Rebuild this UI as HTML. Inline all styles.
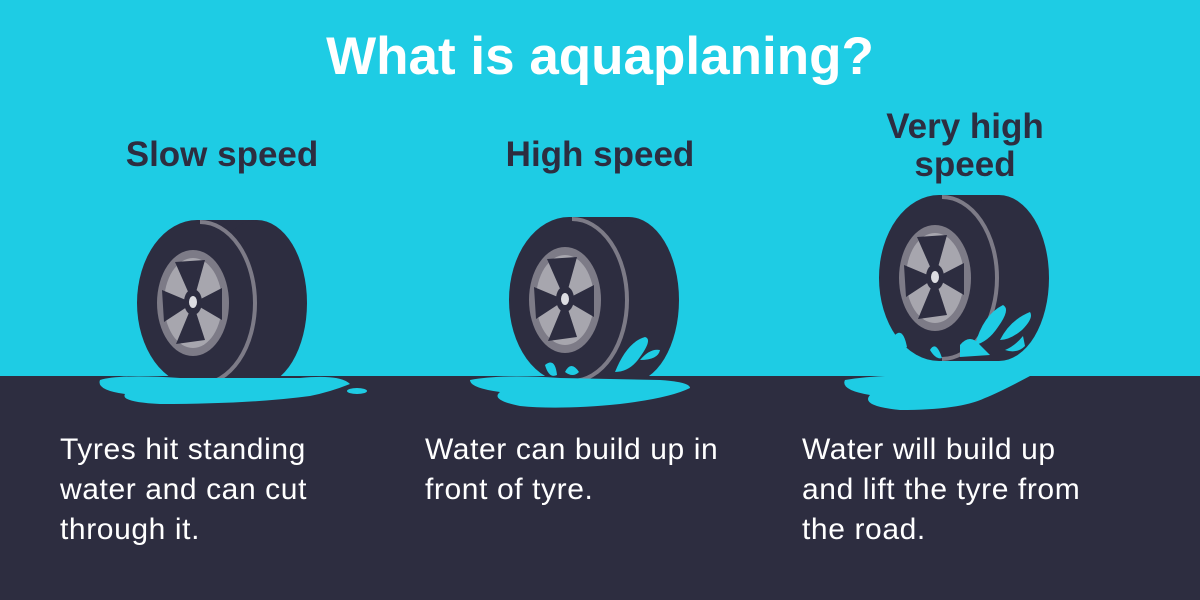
<!DOCTYPE html>
<html><head><meta charset="utf-8"><style>
html,body{margin:0;padding:0;width:1200px;height:600px;overflow:hidden;background:#2d2d40}
.t{font-family:"Liberation Sans",sans-serif;position:absolute}
</style></head><body>
<svg width="1200" height="600" style="position:absolute;left:0;top:0">
<defs>
<g id="tyre">
  <rect x="197" y="220" width="60" height="166" fill="#2d2d40"/>
  <ellipse cx="257" cy="303" rx="50" ry="83" fill="#2d2d40"/>
  <ellipse cx="197" cy="303" rx="60" ry="83" fill="#2d2d40"/>
  <path d="M200 222 A55 81 0 0 1 200 384" fill="none" stroke="#7d7b87" stroke-width="4"/>
  <ellipse cx="193" cy="303" rx="36" ry="53" fill="#7d7b87"/>
  <ellipse cx="193" cy="303" rx="29" ry="45" fill="#a7a6ae"/>
  <path d="M193 303 L175 262 L205 260 Z M193 303 L162 290 L164 322 Z M193 303 L176 344 L205 340 Z M193 303 L222 288 L222 320 Z" fill="#2d2d40"/>
  <ellipse cx="193" cy="302" rx="9" ry="13" fill="#2d2d40"/>
  <ellipse cx="193" cy="302" rx="4" ry="6" fill="#dddde2"/>
</g>
</defs>
<rect x="0" y="0" width="1200" height="376" fill="#1ecce4"/>
<use href="#tyre"/>
<use href="#tyre" transform="translate(372,-3)"/>
<use href="#tyre" transform="translate(742,-25)"/>
<g fill="#1ecce4">
  <path d="M100 380 Q120 374 180 378 L300 378 Q340 374 350 384 Q330 392 310 396 Q250 404 160 404 Q120 402 125 394 Q96 390 100 380Z"/>
  <ellipse cx="357" cy="391" rx="10" ry="3"/>
  <path d="M470 380 Q500 374 560 378 L660 380 Q690 382 690 388 Q670 398 620 404 Q560 410 520 406 Q490 400 500 392 Q470 388 470 380Z"/>
  <path d="M545 365 q10 -8 12 10 q-8 4 -12 -10Z"/>
  <path d="M565 372 q6 -12 14 0 q-6 6 -14 0Z"/>
  <path d="M615 372 q12 -30 30 -35 q8 2 -5 20 q-10 15 -25 15Z"/>
  <path d="M640 360 q10 -12 20 -10 q-2 10 -20 10Z"/>
  <path d="M845 380 Q880 374 930 376 L1030 376 Q1000 392 985 398 Q960 410 900 410 Q860 406 870 395 Q840 390 845 380Z"/>
  <path d="M895 335 q8 -8 12 12 q-8 6 -12 -12Z"/>
  <path d="M930 350 q6 -10 12 8 q-6 2 -12 -8Z"/>
  <path d="M960 345 q10 -12 20 0 l10 10 -30 2Z"/>
  <path d="M975 345 q8 -30 28 -40 q8 4 -5 22 q-10 15 -23 18Z"/>
  <path d="M1000 340 q10 -20 30 -28 q4 6 -8 18 q-12 10 -22 10Z"/>
  <path d="M1005 350 q10 -4 18 -14 l2 10 q-8 8 -20 4Z"/>
</g>
</svg>
<div class="t" style="left:0;width:1200px;top:26px;text-align:center;color:#fff;font-weight:bold;font-size:53px">What is aquaplaning?</div>
<div class="t" style="left:72px;width:300px;top:135px;text-align:center;color:#2d2d40;font-weight:bold;font-size:35px">Slow speed</div>
<div class="t" style="left:450px;width:300px;top:135px;text-align:center;color:#2d2d40;font-weight:bold;font-size:35px">High speed</div>
<div class="t" style="left:815px;width:300px;top:108px;text-align:center;color:#2d2d40;font-weight:bold;font-size:35px;line-height:38px">Very high<br>speed</div>
<div class="t" style="left:60px;top:430px;color:#fff;font-size:30px;letter-spacing:0.6px;line-height:40px">Tyres hit standing<br>water and can cut<br>through it.</div>
<div class="t" style="left:425px;top:430px;color:#fff;font-size:30px;letter-spacing:0.6px;line-height:40px">Water can build up in<br>front of tyre.</div>
<div class="t" style="left:802px;top:430px;color:#fff;font-size:30px;letter-spacing:0.6px;line-height:40px">Water will build up<br>and lift the tyre from<br>the road.</div>
</body></html>
